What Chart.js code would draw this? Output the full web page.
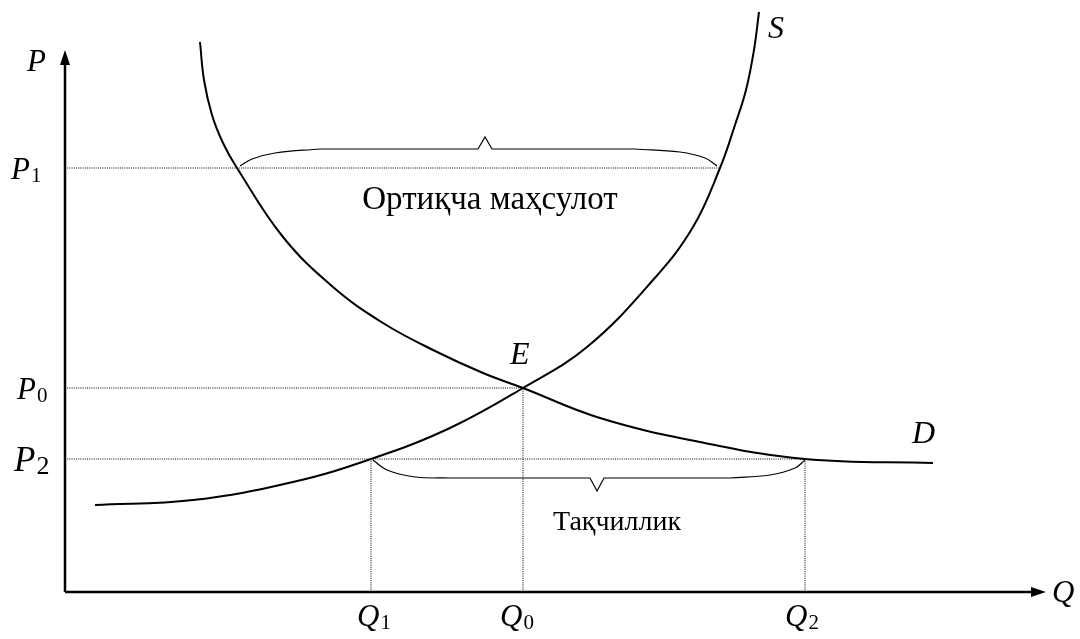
<!DOCTYPE html>
<html>
<head>
<meta charset="utf-8">
<script src="https://cdn.jsdelivr.net/npm/chart.js@4.4.1/dist/chart.umd.min.js"></script>
<style>
  html, body { margin: 0; padding: 0; background: #fff; }
  #wrap { width: 1080px; height: 639px; }
</style>
</head>
<body>
<div id="wrap"><canvas id="chart" width="1080" height="639"></canvas></div>
<script>
// equilibrium levels (Q along x, P along y, origin at the axes corner)
const priceLevels = { P1: 424, P0: 204, P2: 133 };
const qtyLevels = { Q1: 306, Q0: 458, Q2: 740 };

// demand curve D
const demandQ = [135, 139, 147, 158, 172, 218, 268, 318, 368, 418, 458, 535, 635, 740, 868];
const demandP = [550, 512, 477, 449, 424, 355, 305, 269, 242, 219, 204, 174, 150, 133, 129];

// supply curve S
const supplyQ = [30, 128, 228, 306, 385, 458, 522, 588, 628, 655, 670, 681, 689, 694];
const supplyP = [87, 92, 110, 133, 164, 204, 245, 312, 365, 424, 467, 502, 542, 580];

// braces (surplus above P1, shortage below P2)
const surplusLeftQ = [175, 187, 210, 255];
const surplusLeftP = [426, 433, 439, 443];
const surplusMidQ = [255, 413, 420, 427, 570];
const surplusMidP = [443, 443, 455, 443, 443];
const surplusRightQ = [570, 615, 640, 652];
const surplusRightP = [443, 440, 434, 426];

const shortLeftQ = [308, 322, 350, 385];
const shortLeftP = [132, 122, 115, 114];
const shortMidQ = [385, 525, 532, 539, 665];
const shortMidP = [114, 114, 101, 114, 114];
const shortRightQ = [665, 705, 730, 740];
const shortRightP = [114, 117, 124, 132];

const axisQmax = 981;
const axisPmax = 542;

const pts = (xs, ys) => xs.map((x, i) => ({ x: x, y: ys[i] }));

const solid = (data, w, tension) => ({
  data: data,
  showLine: true,
  borderColor: '#000',
  borderWidth: w,
  pointRadius: 0,
  tension: tension,
  fill: false
});

const dotted = (data) => ({
  data: data,
  showLine: true,
  borderColor: '#000',
  borderWidth: 1,
  borderDash: [1, 1.2],
  pointRadius: 0,
  tension: 0,
  fill: false
});

const datasets = [
  dotted([{ x: 0, y: priceLevels.P1 }, { x: 655, y: priceLevels.P1 }]),
  dotted([{ x: 0, y: priceLevels.P0 }, { x: qtyLevels.Q0, y: priceLevels.P0 }]),
  dotted([{ x: 0, y: priceLevels.P2 }, { x: qtyLevels.Q2, y: priceLevels.P2 }]),
  dotted([{ x: qtyLevels.Q1, y: 0 }, { x: qtyLevels.Q1, y: priceLevels.P2 }]),
  dotted([{ x: qtyLevels.Q0, y: 0 }, { x: qtyLevels.Q0, y: priceLevels.P0 }]),
  dotted([{ x: qtyLevels.Q2, y: 0 }, { x: qtyLevels.Q2, y: priceLevels.P2 }]),
  solid(pts(demandQ, demandP), 2, 0.4),
  solid(pts(supplyQ, supplyP), 2, 0.4),
  solid(pts(surplusLeftQ, surplusLeftP), 1.2, 0.4),
  solid(pts(surplusMidQ, surplusMidP), 1.2, 0),
  solid(pts(surplusRightQ, surplusRightP), 1.2, 0.4),
  solid(pts(shortLeftQ, shortLeftP), 1.2, 0.4),
  solid(pts(shortMidQ, shortMidP), 1.2, 0),
  solid(pts(shortRightQ, shortRightP), 1.2, 0.4),
  solid([{ x: 0, y: 0 }, { x: 0, y: axisPmax - 12 }], 2.5, 0),
  solid([{ x: 0, y: 0 }, { x: axisQmax - 12, y: 0 }], 2.5, 0)
];

// arrows + text labels
const labelsPlugin = {
  id: 'labels',
  afterDatasetsDraw(chart) {
    const c = chart.ctx;
    const sx = chart.scales.x, sy = chart.scales.y;
    const X = v => sx.getPixelForValue(v);
    const Y = v => sy.getPixelForValue(v);
    c.save();
    c.fillStyle = '#000';

    // arrow heads
    c.beginPath();
    c.moveTo(X(0), Y(axisPmax));
    c.lineTo(X(0) - 5, Y(axisPmax) + 15);
    c.lineTo(X(0) + 5, Y(axisPmax) + 15);
    c.closePath();
    c.fill();
    c.beginPath();
    c.moveTo(X(axisQmax), Y(0));
    c.lineTo(X(axisQmax) - 15, Y(0) - 5);
    c.lineTo(X(axisQmax) - 15, Y(0) + 5);
    c.closePath();
    c.fill();

    const it = '"Liberation Serif", "Times New Roman", serif';
    function sym(letter, sub, x, y, size, subSize) {
      c.textBaseline = 'alphabetic';
      c.textAlign = 'left';
      c.font = 'italic ' + size + 'px ' + it;
      c.fillText(letter, x, y);
      if (sub) {
        const w = c.measureText(letter).width;
        c.font = subSize + 'px ' + it;
        c.fillText(sub, x + w + 1, y + 3);
      }
    }

    sym('P', '', X(0) - 38, Y(axisPmax) + 21, 31, 0);
    sym('P', '1', X(0) - 54, Y(priceLevels.P1) + 11, 31, 21);
    sym('P', '0', X(0) - 48, Y(priceLevels.P0) + 11, 31, 21);
    sym('P', '2', X(0) - 51, Y(priceLevels.P2) + 12, 35, 26);
    sym('Q', '1', X(qtyLevels.Q1) - 14, Y(0) + 34, 31, 21);
    sym('Q', '0', X(qtyLevels.Q0) - 23, Y(0) + 34, 31, 21);
    sym('Q', '2', X(qtyLevels.Q2) - 20, Y(0) + 34, 31, 21);
    sym('Q', '', X(axisQmax) + 6, Y(0) + 10, 31, 0);
    sym('S', '', X(703), Y(580) + 26, 32, 0);
    sym('E', '', X(445), Y(204) - 24, 32, 0);
    sym('D', '', X(847), Y(129) - 20, 32, 0);

    c.textAlign = 'center';
    c.textBaseline = 'middle';
    c.font = '33px ' + it;
    c.fillText('Ортиқча маҳсулот', X(425), Y(392));
    c.font = '28px ' + it;
    c.fillText('Тақчиллик', X(552), Y(69));
    c.restore();
  }
};

const ctx = document.getElementById('chart').getContext('2d');
const chart = new Chart(ctx, {
  type: 'scatter',
  data: { datasets: datasets },
  options: {
    responsive: false,
    animation: false,
    layout: { padding: 0 },
    plugins: {
      legend: { display: false },
      tooltip: { enabled: false }
    },
    scales: {
      x: { type: 'linear', min: -65, max: 1015, display: false },
      y: { type: 'linear', min: -47, max: 592, display: false }
    }
  },
  plugins: [labelsPlugin]
});
</script>
</body>
</html>
